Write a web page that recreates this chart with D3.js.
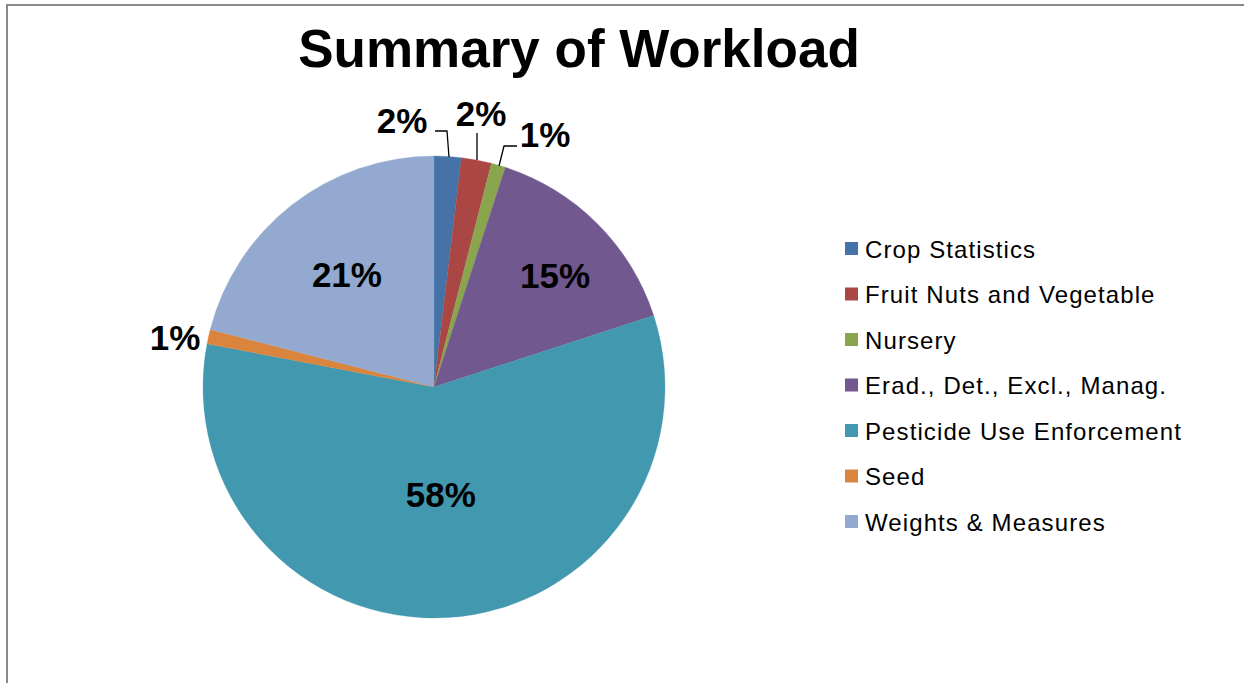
<!DOCTYPE html>
<html><head><meta charset="utf-8">
<script src="https://cdn.jsdelivr.net/npm/d3@7"></script>
<style>body{margin:0;background:#fff}svg{display:block}text{font-family:"Liberation Sans",Arial,sans-serif}</style>
</head><body>
<svg id="c" width="1244" height="683"></svg>
<script>
const categories = ["Crop Statistics","Fruit Nuts and Vegetable","Nursery","Erad., Det., Excl., Manag.","Pesticide Use Enforcement","Seed","Weights & Measures"];
const values = [1.9, 2.1, 1.0, 15.0, 58.0, 1.0, 21.0];
const colors = ["#4572A7","#AA4643","#89A54E","#71588F","#4198AF","#DB843D","#93A9CF"];
const title = "Summary of Workload";

const svg = d3.select("#c");
svg.append("rect").attr("x",7).attr("y",5).attr("width",1400).attr("height",1000)
  .attr("fill","none").attr("stroke","#8a8a8a").attr("stroke-width",2);

svg.append("text").attr("x",579).attr("y",67).attr("text-anchor","middle")
  .attr("font-size",53).attr("font-weight","bold").text(title);

const cx=434, cy=387, R=231;
const data = categories.map((c,i)=>({c, v:values[i], col:colors[i]}));
const pie = d3.pie().value(d=>d.v).sort(null);
const arcs = pie(data);
const arc = d3.arc().innerRadius(0).outerRadius(R);
const g = svg.append("g").attr("transform",`translate(${cx},${cy})`);
g.selectAll("path").data(arcs).join("path").attr("d",arc).attr("fill",d=>d.data.col)
  .attr("stroke",d=>d.data.col).attr("stroke-width",0.3);

const total = d3.sum(values);
const fmt = v => Math.round(v/total*100) + "%";
const labelLayout = [
  {out:true, x:402, y:133, leader:[[435,131],[447,131],[449,157]]},
  {out:true, x:481, y:126, leader:[[477,133],[477,160]]},
  {out:true, x:545, y:147, leader:[[517,146],[504,146],[499,166]]},
  {out:false, r:0.71, dAng:0.045},
  {out:false, r:0.47},
  {out:true, x:175, y:350, leader:null},
  {out:false, r:0.615}
];
arcs.forEach((a,i)=>{
  const L = labelLayout[i];
  let x,y;
  if (L.out) { x=L.x; y=L.y;
    if (L.leader) svg.append("path").attr("d",d3.line()(L.leader)).attr("fill","none").attr("stroke","#000").attr("stroke-width",1.3);
  } else {
    const m=(a.startAngle+a.endAngle)/2 + (L.dAng||0);
    x = cx + Math.sin(m)*R*L.r; y = cy - Math.cos(m)*R*L.r + 12;
  }
  svg.append("text").attr("x",x).attr("y",y).attr("text-anchor","middle")
    .attr("font-size",35).attr("font-weight","bold").text(fmt(a.data.v));
});

const lg = svg.append("g");
categories.forEach((c,i)=>{
  const y = 249 + i*45.5;
  lg.append("rect").attr("x",845).attr("y",y-7).attr("width",13).attr("height",13).attr("fill",colors[i]);
  lg.append("text").attr("x",865).attr("y",y+8.5).attr("font-size",24).attr("letter-spacing",1.1).text(c);
});
</script>
</body></html>
